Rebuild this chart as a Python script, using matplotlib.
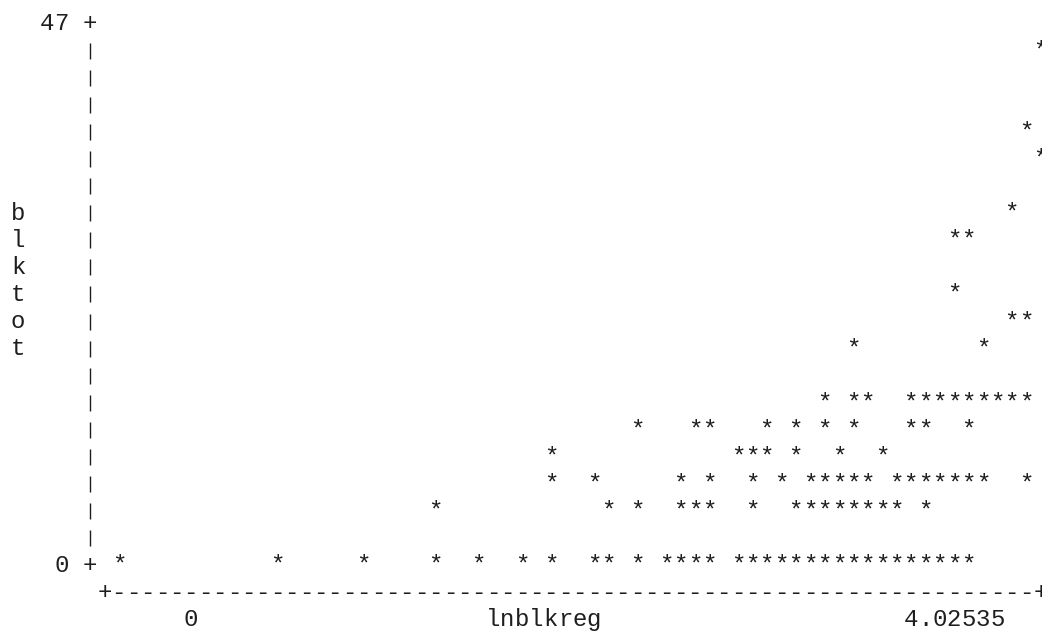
import matplotlib
matplotlib.use("Agg")
import matplotlib.pyplot as plt

# Axis titles and the min / max labels printed on each axis
x_title = "lnblkreg"
y_title = "blktot"
x_labels = ("0", "4.02535")
y_labels = ("0", "47")
x_max = 4.02535
y_max = 47.0

# Observations (one per printed cell), listed row by row from the bottom
lnblkreg = [
    0.000, 0.692, 1.069, 1.384, 1.572, 1.761, 1.887, 2.076, 2.138, 2.264,
    2.390, 2.453, 2.516, 2.579, 2.705, 2.767, 2.830, 2.893, 2.956, 3.019,
    3.082, 3.145, 3.208, 3.271, 3.334, 3.396, 3.459, 3.522, 3.585, 3.648,
    3.711,
    1.384, 2.138, 2.264, 2.453, 2.516, 2.579, 2.767, 2.956, 3.019, 3.082,
    3.145, 3.208, 3.271, 3.334, 3.396, 3.522,
    1.887, 2.076, 2.453, 2.579, 2.767, 2.893, 3.019, 3.082, 3.145, 3.208,
    3.271, 3.396, 3.459, 3.522, 3.585, 3.648, 3.711, 3.774, 3.962,
    1.887, 2.705, 2.767, 2.830, 2.956, 3.145, 3.334,
    2.264, 2.516, 2.579, 2.830, 2.956, 3.082, 3.208, 3.459, 3.522, 3.711,
    3.082, 3.208, 3.271, 3.459, 3.522, 3.585, 3.648, 3.711, 3.774, 3.837,
    3.900, 3.962,
    3.208, 3.774,
    3.900, 3.962,
    3.648,
    3.648, 3.711,
    3.900,
    4.025,
    3.962,
    4.025,
]
blktot = (
    [0.00] * 31
    + [4.70] * 16
    + [7.05] * 19
    + [9.40] * 7
    + [11.75] * 10
    + [14.10] * 12
    + [18.80] * 2
    + [21.15] * 2
    + [23.50] * 1
    + [28.20] * 2
    + [30.55] * 1
    + [35.25] * 1
    + [37.60] * 1
    + [44.65] * 1
)

# Character-cell layout
W, H, DPI = 1042, 633, 100
CHAR_W = 14.4      # width of one monospace cell, px
ROW_H = 27.1       # line height, px
N_COLS = 64        # cells between the min and max of x
N_ROWS = 20        # lines between the min and max of y
AXIS_PX = 90.0     # x pixel of the vertical axis column
BASE_PX = 572.0    # y pixel (from top) of the zero line's baseline
INK = "#1e1e1e"

x_step = x_max / N_COLS
y_step = y_max / N_ROWS
px_per_x = CHAR_W / x_step
px_per_y = ROW_H / y_step
x0_px = AXIS_PX + 2 * CHAR_W

fig = plt.figure(figsize=(W / DPI, H / DPI), dpi=DPI)
fig.patch.set_facecolor("white")
ax = fig.add_axes([0, 0, 1, 1])
ax.axis("off")
ax.set_xlim(-x0_px / px_per_x, (W - x0_px) / px_per_x)
ax.set_ylim(-(H - BASE_PX) / px_per_y, BASE_PX / px_per_y)

font = dict(family="Liberation Mono", size=CHAR_W / 0.6 * 72 / DPI,
            color=INK)


def cell_x(c):
    return (c - 2) * x_step


def cell_y(r):
    return r * y_step


def put(c, r, s):
    ax.text(cell_x(c), cell_y(r), s, ha="center", va="baseline",
            clip_on=False, **font)


def put_str(c, r, s):
    for i, ch in enumerate(s):
        if ch != " ":
            put(c + i, r, ch)


# Vertical axis: '+' at both ends, a short bar on every line between
put(0, N_ROWS, "+")
put(0, 0, "+")
bar_rows = list(range(1, N_ROWS))
ax.vlines([cell_x(0)] * len(bar_rows),
          [cell_y(r) - 1.5 / px_per_y for r in bar_rows],
          [cell_y(r) + 14.5 / px_per_y for r in bar_rows],
          colors=INK, linewidth=1.0)
put_str(-1 - len(y_labels[1]), N_ROWS, y_labels[1])
put_str(-1 - len(y_labels[0]), 0, y_labels[0])

# Vertical title, one letter per line
for i, ch in enumerate(y_title):
    put(-5, 13 - i, ch)

# Horizontal axis
put_str(1, -1, "+" + "-" * N_COLS + "+")
put_str(7, -2, x_labels[0])
put_str(28, -2, x_title)
put_str(57, -2, x_labels[1])

# Data points
for xv, yv in zip(lnblkreg, blktot):
    ax.text(xv, yv, "*", ha="center", va="baseline", clip_on=False, **font)

fig.savefig("out.png", dpi=DPI, facecolor="white")
